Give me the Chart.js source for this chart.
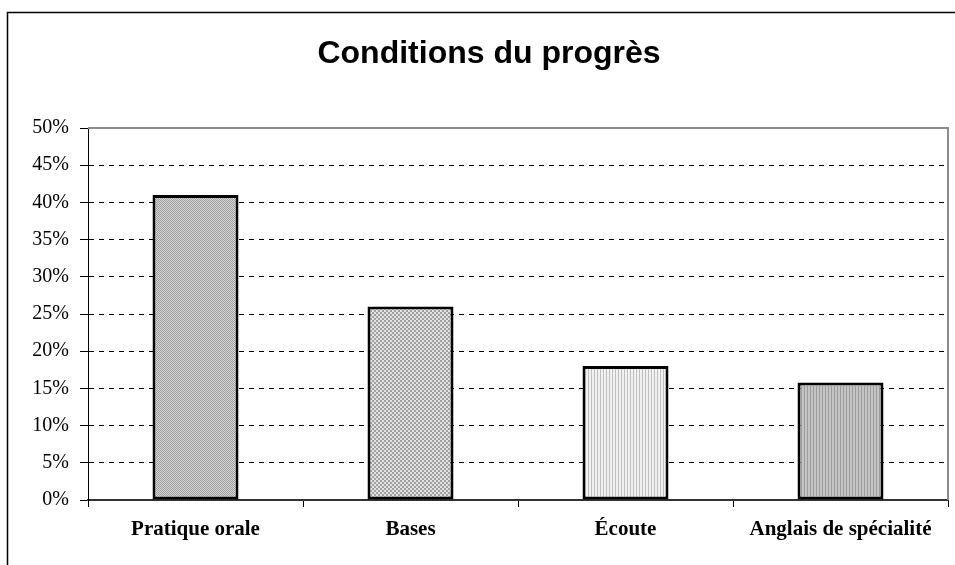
<!DOCTYPE html>
<html>
<head>
<meta charset="utf-8">
<script src="https://cdn.jsdelivr.net/npm/chart.js@4"></script>
<style>
  body { margin: 0; background: #fff; }
  #wrap { width: 955px; height: 565px; }
</style>
</head>
<body>
<div id="wrap"><canvas id="chart" width="955" height="565"></canvas></div>
<script>
let categories = ["Pratique orale", "Bases", "Écoute", "Anglais de spécialité"]
let values = [41, 26, 18, 15.8]
let tickvalues = [0, 5, 10, 15, 20, 25, 30, 35, 40, 45, 50]

// little fill patterns, like the old excel hatches
function makepattern(w, h, draw) {
    let c = document.createElement("canvas")
    c.width = w
    c.height = h
    let g = c.getContext("2d")
    draw(g)
    return g.createPattern(c, "repeat")
}

let fills = [
    makepattern(2, 2, g => {
        g.fillStyle = "#d4d4d4"; g.fillRect(0, 0, 2, 2)
        g.fillStyle = "#a0a0a0"; g.fillRect(0, 0, 1, 1); g.fillRect(1, 1, 1, 1)
    }),
    makepattern(4, 4, g => {
        g.fillStyle = "#e2e2e2"; g.fillRect(0, 0, 4, 4)
        g.fillStyle = "#a0a0a0"; g.fillRect(0, 0, 2, 2); g.fillRect(2, 2, 2, 2)
    }),
    makepattern(3, 1, g => {
        g.fillStyle = "#f0f0f0"; g.fillRect(0, 0, 3, 1)
        g.fillStyle = "#c0c0c0"; g.fillRect(0, 0, 1, 1)
    }),
    makepattern(3, 1, g => {
        g.fillStyle = "#c4c4c4"; g.fillRect(0, 0, 3, 1)
        g.fillStyle = "#9c9c9c"; g.fillRect(0, 0, 1, 1)
    })
]

const frame = {
    id: "frame",
    beforeDraw(chart) {
        let ctx = chart.ctx
        ctx.save()
        ctx.fillStyle = "#fff"
        ctx.fillRect(0, 0, chart.width, chart.height)
        ctx.strokeStyle = "#000"
        ctx.lineWidth = 1.5
        ctx.strokeRect(7.5, 12.5, 1000, 1000)
        ctx.restore()
    },
    afterDatasetsDraw(chart) {
        let a = chart.chartArea
        let ctx = chart.ctx
        ctx.save()
        ctx.strokeStyle = "#8c8c8c"
        ctx.lineWidth = 2
        ctx.beginPath()
        ctx.moveTo(a.left, a.top)
        ctx.lineTo(a.right, a.top)
        ctx.lineTo(a.right, a.bottom)
        ctx.stroke()
        ctx.restore()
    }
}

const ctx = document.getElementById("chart").getContext("2d")
const chart = new Chart(ctx, {
    type: "bar",
    data: {
        labels: categories,
        datasets: [{
            data: values,
            backgroundColor: fills,
            borderColor: "#000",
            borderWidth: 3,
            borderSkipped: false,
            barPercentage: 0.4,
            categoryPercentage: 1
        }]
    },
    options: {
        responsive: false,
        animation: false,
        layout: { padding: { left: 30, right: 7, top: 0, bottom: 0 } },
        plugins: {
            legend: { display: false },
            tooltip: { enabled: false },
            title: {
                display: true,
                text: "Conditions du progrès",
                color: "#000",
                font: { family: "'Liberation Sans', Arial, sans-serif", size: 32, weight: "bold", lineHeight: 1.2 },
                padding: { top: 35, bottom: 54.6 }
            }
        },
        scales: {
            x: {
                grid: { offset: true, drawOnChartArea: false, color: "#000", tickLength: 7, lineWidth: 1 },
                border: { color: "#333", width: 2 },
                ticks: {
                    color: "#000",
                    padding: 10,
                    maxRotation: 0,
                    font: { family: "'Liberation Serif', 'Times New Roman', serif", size: 21, weight: "bold" }
                },
                afterFit(scale) { scale.height = 65 }
            },
            y: {
                min: 0,
                max: 50,
                afterBuildTicks(scale) { scale.ticks = tickvalues.map(v => ({ value: v })) },
                grid: { color: "#000", lineWidth: 1, tickBorderDash: [], tickLength: 8, tickColor: "#000" },
                border: { color: "#000", width: 1, dash: [5, 5] },
                ticks: {
                    color: "#000",
                    padding: 11,
                    callback: v => v + "%",
                    font: { family: "'Liberation Serif', 'Times New Roman', serif", size: 20 }
                },
                afterFit(scale) { scale.width = 58 }
            }
        }
    },
    plugins: [frame]
})
</script>
</body>
</html>
